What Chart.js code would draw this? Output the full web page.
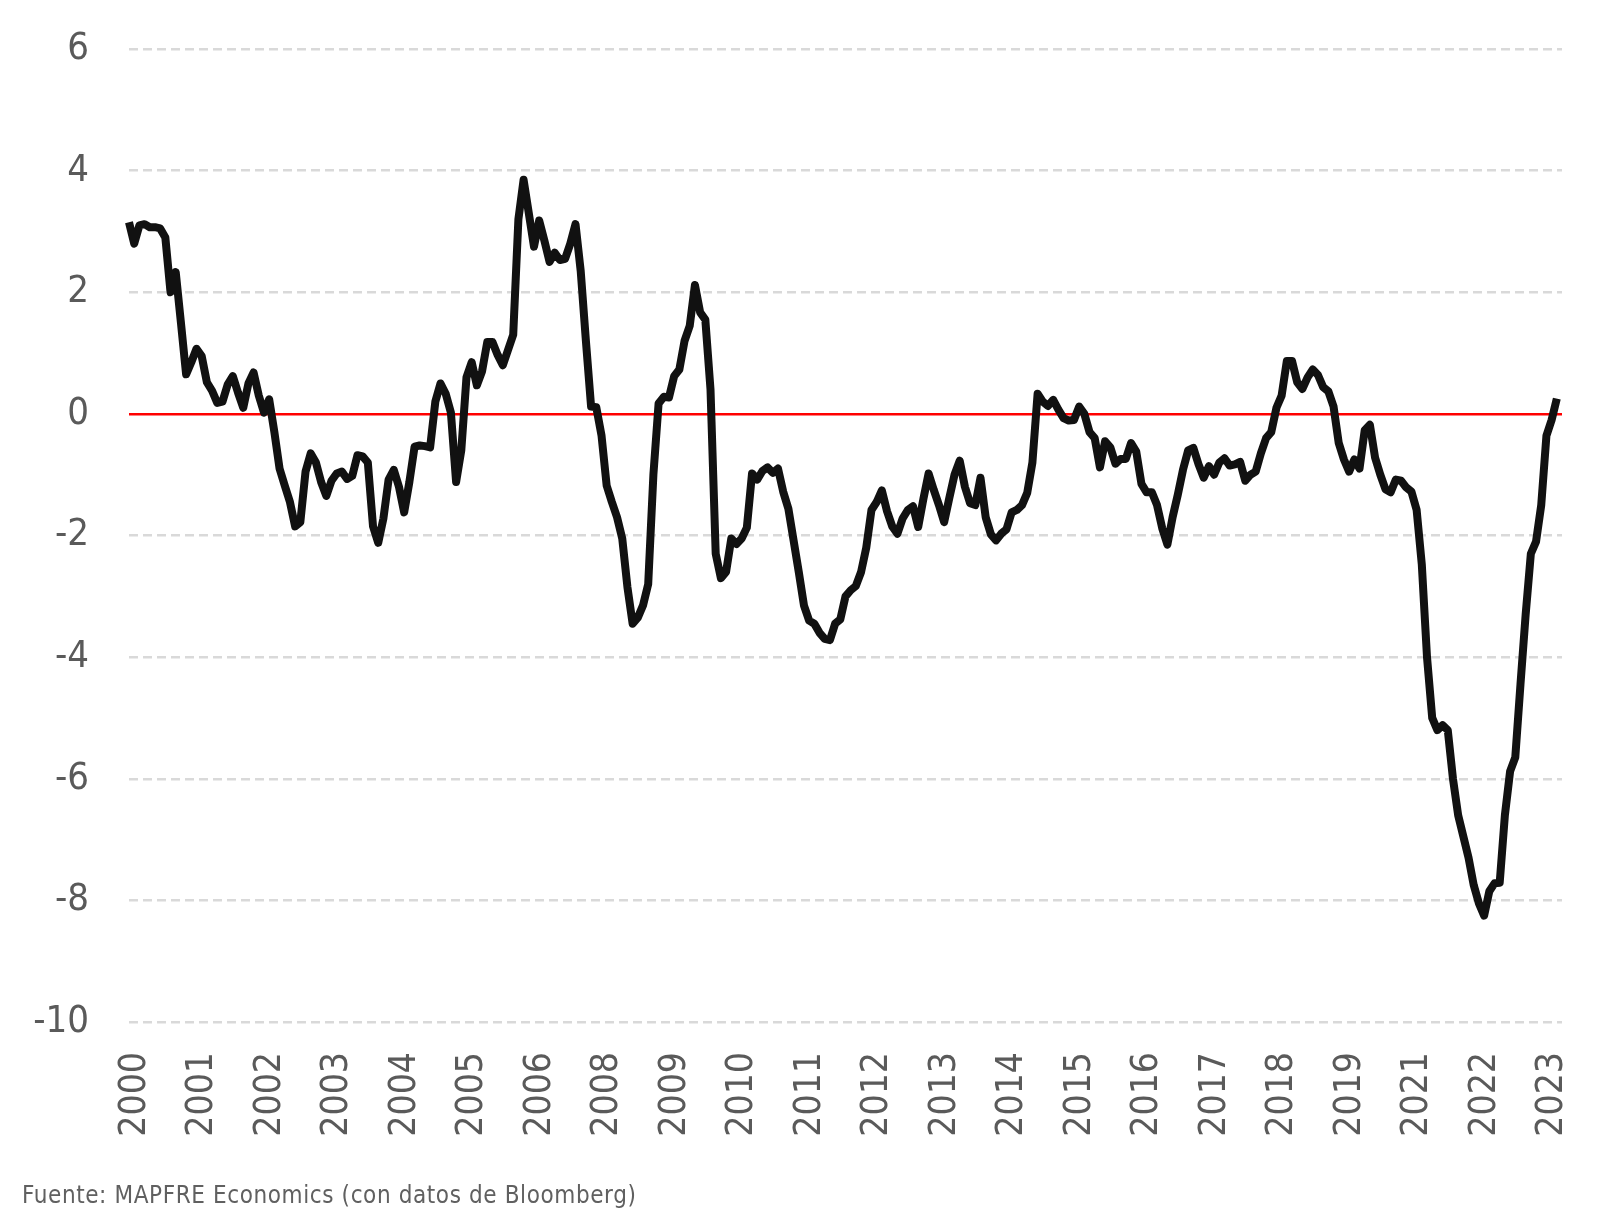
<!DOCTYPE html>
<html>
<head>
<meta charset="utf-8">
<script src="https://cdn.jsdelivr.net/npm/chart.js@4.4.0/dist/chart.umd.min.js"></script>
<style>
  html, body { margin: 0; padding: 0; background: #ffffff; }
  #wrap { position: relative; width: 1614px; height: 1231px; }
  #src { position: absolute; left: 22px; top: 1181px; font-size: 24px; color: #606060; letter-spacing: 0.6px;
         font-family: 'Liberation Sans Narrow', 'DejaVu Sans Condensed', Roboto, sans-serif; white-space: nowrap; }
</style>
</head>
<body>
<div id="wrap">
  <canvas id="c" width="1614" height="1231"></canvas>
  <div id="src">Fuente: MAPFRE Economics (con datos de Bloomberg)</div>
</div>
<script>
// Monthly series
const values = [
  3.15, 2.8, 3.1, 3.12, 3.07, 3.07, 3.05, 2.9, 2.0, 2.33,
  1.5, 0.65, 0.85, 1.07, 0.95, 0.52, 0.38, 0.18, 0.2, 0.48,
  0.62, 0.35, 0.1, 0.5, 0.68, 0.3, 0.02, 0.24, -0.3, -0.9,
  -1.18, -1.45, -1.85, -1.78, -0.95, -0.65, -0.8, -1.12, -1.35, -1.1,
  -0.98, -0.95, -1.07, -1.02, -0.68, -0.7, -0.8, -1.85, -2.12, -1.72,
  -1.08, -0.92, -1.2, -1.62, -1.12, -0.54, -0.52, -0.53, -0.55, 0.2,
  0.5, 0.33, 0.02, -1.12, -0.6, 0.6, 0.85, 0.47, 0.7, 1.18,
  1.18, 0.97, 0.8, 1.05, 1.3, 3.2, 3.85, 3.3, 2.75, 3.18,
  2.85, 2.5, 2.65, 2.53, 2.55, 2.8, 3.12, 2.35, 1.2, 0.12,
  0.11, -0.35, -1.18, -1.45, -1.7, -2.05, -2.85, -3.45, -3.35, -3.15,
  -2.8, -1.0, 0.17, 0.28, 0.27, 0.62, 0.73, 1.2, 1.45, 2.12,
  1.67, 1.55, 0.4, -2.3, -2.7, -2.6, -2.05, -2.14, -2.05, -1.87,
  -0.98, -1.08, -0.94, -0.88, -0.97, -0.9, -1.28, -1.56, -2.08, -2.6,
  -3.15, -3.4, -3.45, -3.6, -3.7, -3.72, -3.45, -3.38, -3.0, -2.9,
  -2.83, -2.6, -2.2, -1.58, -1.45, -1.26, -1.6, -1.85, -1.97, -1.72,
  -1.58, -1.52, -1.86, -1.4, -0.98, -1.25, -1.5, -1.78, -1.38, -1.0,
  -0.77, -1.2, -1.47, -1.5, -1.05, -1.7, -1.98, -2.08, -1.97, -1.9,
  -1.62, -1.58, -1.5, -1.3, -0.8, 0.33, 0.2, 0.13, 0.23, 0.07,
  -0.07, -0.11, -0.1, 0.12, 0.0, -0.3, -0.4, -0.88, -0.45, -0.55,
  -0.82, -0.74, -0.74, -0.48, -0.62, -1.15, -1.29, -1.29, -1.5, -1.88,
  -2.15, -1.7, -1.33, -0.92, -0.6, -0.56, -0.83, -1.05, -0.86, -1.0,
  -0.8, -0.73, -0.85, -0.83, -0.79, -1.1, -1.0, -0.95, -0.65, -0.4,
  -0.3, 0.1, 0.3, 0.87, 0.87, 0.52, 0.41, 0.6, 0.73, 0.64,
  0.44, 0.37, 0.12, -0.48, -0.75, -0.95, -0.75, -0.9, -0.27, -0.18,
  -0.72, -1.0, -1.24, -1.29, -1.08, -1.1, -1.21, -1.28, -1.58, -2.48,
  -4.0, -5.0, -5.2, -5.12, -5.2, -6.0, -6.6, -6.95, -7.3, -7.75,
  -8.05, -8.25, -7.85, -7.72, -7.71, -6.6, -5.88, -5.65, -4.45, -3.3,
  -2.3, -2.1, -1.5, -0.36, -0.1, 0.25
];
const slotCount = 277;
const tickSlots = [0, 13, 26, 39, 52, 65, 78, 91, 104, 117, 130, 143, 156, 169, 182, 195, 208, 221, 234, 247, 260, 273];
const tickYears = ['2000', '2001', '2002', '2003', '2004', '2005', '2006', '2008', '2009', '2010', '2011',
                   '2012', '2013', '2014', '2015', '2016', '2017', '2018', '2019', '2021', '2022', '2023'];
const yMin = -10, yMax = 6, yStep = 2;

const categories = [];
for (let i = 0; i < slotCount; i++) categories.push('');
tickSlots.forEach((s, k) => { categories[s] = tickYears[k]; });

const FONT = "'Liberation Sans Narrow', 'DejaVu Sans Condensed', Roboto, sans-serif";

new Chart(document.getElementById('c'), {
  type: 'line',
  data: {
    labels: categories,
    datasets: [{
      data: values,
      borderColor: '#111111',
      borderWidth: 8,
      pointRadius: 0,
      pointHoverRadius: 0,
      tension: 0,
      borderJoinStyle: 'round',
      fill: false
    }]
  },
  options: {
    responsive: false,
    animation: false,
    devicePixelRatio: 1,
    layout: { padding: { top: 49, right: 52, left: 0, bottom: 0 } },
    plugins: { legend: { display: false }, tooltip: { enabled: false } },
    scales: {
      x: {
        type: 'category',
        grid: { display: false, drawTicks: true, tickLength: 30 },
        border: { display: false },
        ticks: {
          autoSkip: false, maxRotation: 90, minRotation: 90, padding: 0, labelOffset: 6,
          color: '#5a5a5a', font: { family: FONT, size: 37 }
        },
        afterFit(scale) { scale.height = 209; }
      },
      y: {
        min: yMin, max: yMax,
        ticks: { stepSize: yStep, padding: 0, color: '#5a5a5a', font: { family: FONT, size: 38 } },
        grid: {
          drawTicks: true,
          tickLength: 40,
          tickColor: 'rgba(0,0,0,0)',
          color: (ctx) => ctx.tick && ctx.tick.value === 0 ? '#ff0000' : '#d9d9d9',
          lineWidth: 2.5
        },
        border: {
          display: false,
          dash: (ctx) => ctx.tick && ctx.tick.value === 0 ? [] : [9, 5]
        },
        afterFit(scale) { scale.width = 129; }
      }
    }
  }
});
</script>
</body>
</html>
